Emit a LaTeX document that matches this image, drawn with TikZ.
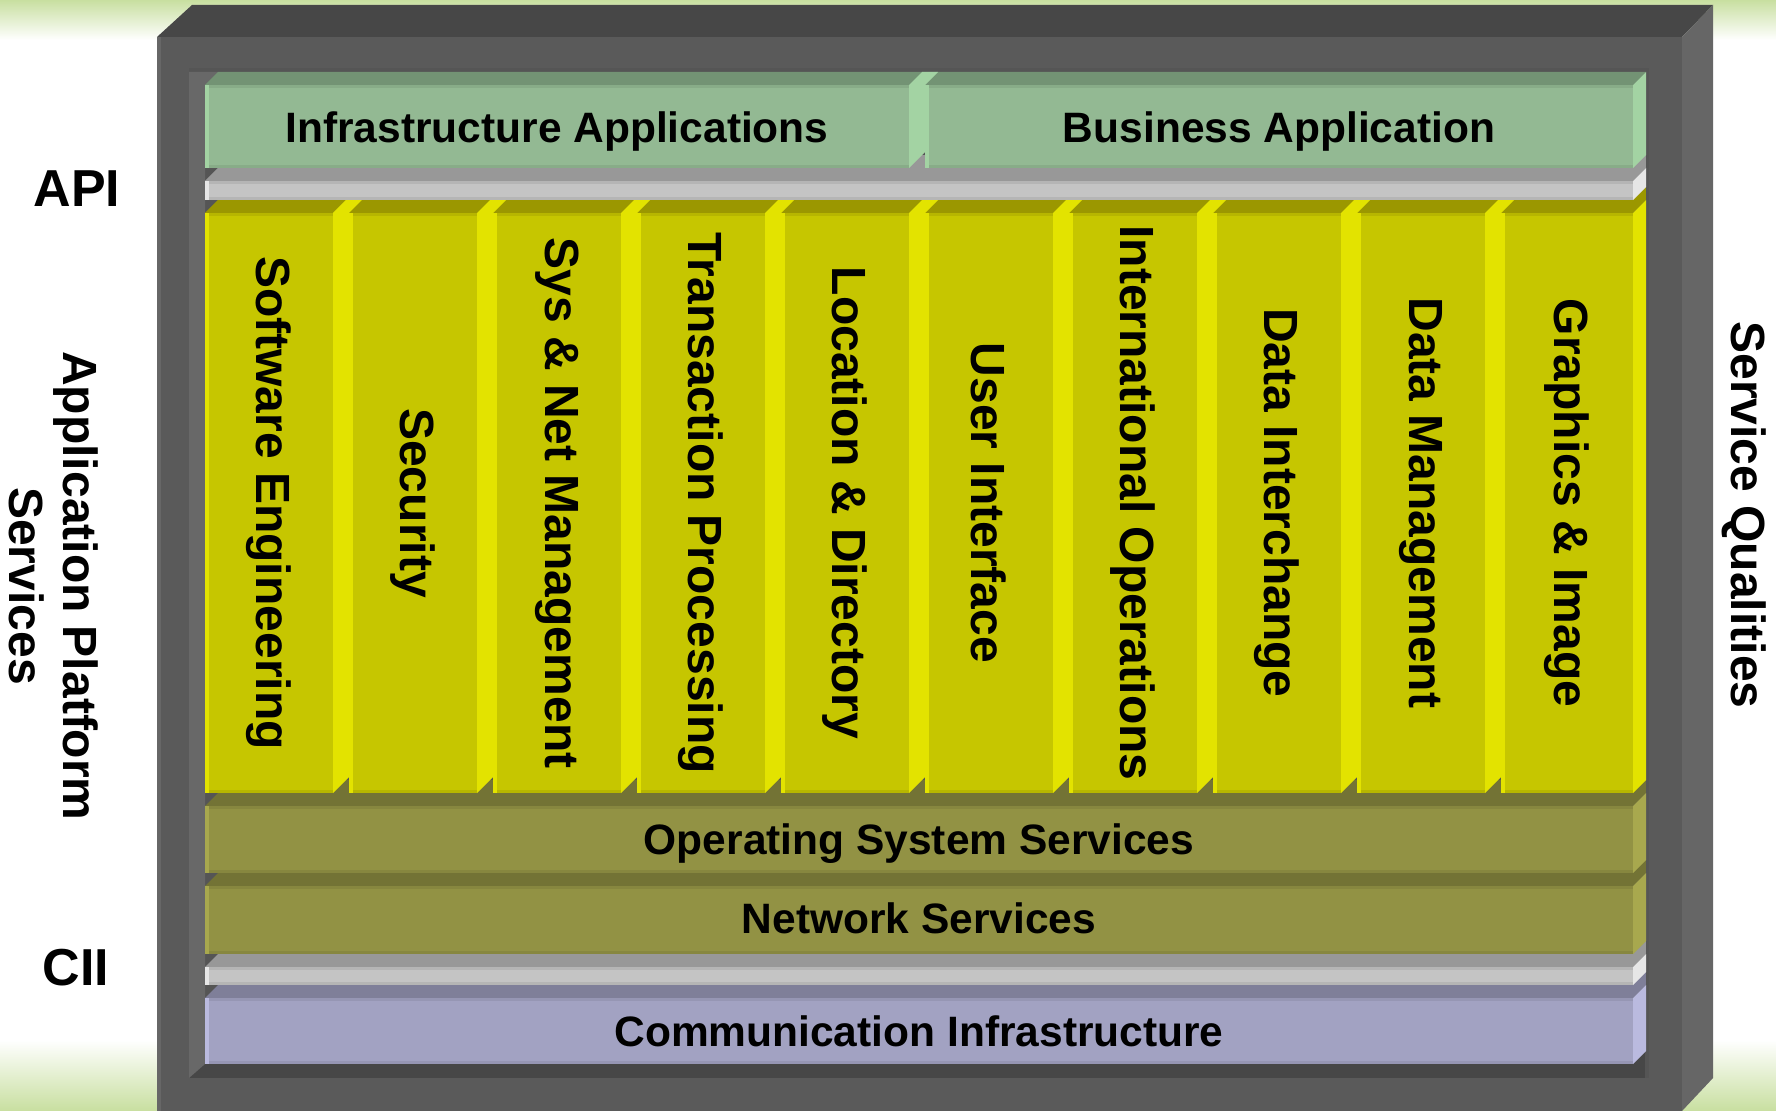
\documentclass[tikz,border=0pt]{standalone}
\usepackage{fontspec}
\setmainfont{Liberation Sans}

\definecolor{bgGreen}{HTML}{C8DFA0}
\definecolor{frameF}{HTML}{5A5A5A}
\definecolor{frameT}{HTML}{474747}
\definecolor{frameS}{HTML}{666666}
\definecolor{recess}{HTML}{555555}
\definecolor{wall}{HTML}{686868}
\definecolor{floor}{HTML}{474747}
\definecolor{grnF}{HTML}{93B993}
\definecolor{grnT}{HTML}{739374}
\definecolor{grnS}{HTML}{A3D3A3}
\definecolor{gryF}{HTML}{C4C4C4}
\definecolor{gryT}{HTML}{989898}
\definecolor{gryS}{HTML}{E6E6E6}
\definecolor{yelF}{HTML}{C6C600}
\definecolor{yelT}{HTML}{9B9700}
\definecolor{yelS}{HTML}{E3E300}
\definecolor{olvF}{HTML}{929244}
\definecolor{olvT}{HTML}{737335}
\definecolor{olvS}{HTML}{A8A84E}
\definecolor{lavF}{HTML}{A2A2C2}
\definecolor{lavT}{HTML}{7F7F99}
\definecolor{lavS}{HTML}{BABADF}

% faces of a slab: front (x1,y1)-(x2,y2), depth 13
\newcommand{\slabback}[4]{\fill[#4T] ({(#1)+13},{(#2)-26}) rectangle ({(#3)+13},{(#2)-13});}
\newcommand{\slabtop}[4]{\fill[#4T] (#1,#2) -- ({(#1)+13},{(#2)-13}) -- ({(#3)+13},{(#2)-13}) -- (#3,#2) -- cycle;}
\newcommand{\slabside}[4]{\fill[#4S] (#1,#2) -- ({(#1)+13},{(#2)-13}) -- ({(#1)+13},{(#3)-13}) -- (#1,#3) -- cycle;}
\newcommand{\slabfront}[5]{%
  \fill[#5F] (#1,#2) rectangle (#3,#4);
  \fill[#5S] (#1,#2) rectangle ({(#1)+4},#4);
  \fill[#5T!35!#5F] ({(#1)+4},#2) rectangle (#3,{(#2)+3});
  \fill[#5T!35!#5F] ({(#1)+4},{(#4)-3}) rectangle (#3,#4);}
\newcommand{\slabgap}[5]{\fill[#5S] (#1,#4) -- (#1,#3) -- ({(#1)+13},{(#3)-13}) -- ({(#2)+13},{(#3)-13}) -- (#2,#3) -- (#2,{(#4)-(#2)+(#1)}) -- cycle;}
\newcommand{\slab}[5]{\slabback{#1}{#2}{#3}{#5}\slabtop{#1}{#2}{#3}{#5}\slabside{#3}{#2}{#4}{#5}\slabfront{#1}{#2}{#3}{#4}{#5}}

\tikzset{
  hlabel/.style={font=\bfseries\fontsize{21.25}{24}\selectfont, inner sep=0pt, text depth=0pt},
  vlabel/.style={font=\bfseries\fontsize{24}{27}\selectfont, rotate=-90, inner sep=0pt},
  marginlabel/.style={font=\bfseries\fontsize{24}{27}\selectfont, rotate=-90, align=center, inner sep=0pt},
  biglabel/.style={font=\bfseries\fontsize{26}{30}\selectfont, inner sep=0pt}
}

\begin{document}
\begin{tikzpicture}[x=0.5pt,y=-0.5pt]
\useasboundingbox (0,0) rectangle (1776,1111);
\fill[white] (0,0) rectangle (1776,1111);
\shade[top color=bgGreen, bottom color=white] (0,0) rectangle (1776,40);
\shade[top color=white, bottom color=bgGreen] (0,1040) rectangle (1776,1111);

% frame
\fill[frameT] (157,37) -- (192,5) -- (1713,5) -- (1682,37) -- cycle;
\fill[frameS] (1682,37) -- (1713,5) -- (1713,1078) -- (1682,1111) -- cycle;
\fill[frameF] (157,37) rectangle (1682,1111);
\fill[frameF!92!white] (157,37) rectangle (161,1111);
\fill[recess] (189,68) rectangle (1649,1078);
\fill[floor] (189,1051) rectangle (1645,1078);
\fill[wall] (189,72) -- (218,72) -- (205,85) -- (205,1064) -- (189,1078) -- cycle;

% layers, bottom first
\slab{205}{998}{1633}{1064}{lav}
\slab{205}{967}{1633}{985}{gry}
\slab{205}{886}{1633}{954}{olv}
\slab{205}{806}{1633}{873}{olv}

\slabback{205}{213}{1633}{yel}
\slabtop{205}{213}{1633}{yel}
\slabside{1633}{213}{793}{yel}
\foreach \lab [count=\i from 0] in {Software Engineering, Security,
    Sys \& Net Management, Transaction Processing, Location \& Directory,
    User Interface, International Operations, Data Interchange,
    Data Management, Graphics \& Image} {
  \pgfmathsetmacro\xl{205+144*\i}
  \pgfmathsetmacro\xr{\i==9 ? 1633 : \xl+128}
  \slabfront{\xl}{213}{\xr}{793}{yel}
  \ifnum\i<9 \slabgap{\xr}{\xl+144}{213}{793}{yel}\fi
  \node[vlabel] (col\i) at ({(\xl+\xr)/2},503) {\lab};
}

\slab{205}{181}{1633}{200}{gry}
\slabtop{205}{85}{1633}{grn}
\slabside{1633}{85}{168}{grn}
\slabfront{205}{85}{909}{168}{grn}
\slabgap{909}{925}{85}{168}{grn}
\slabfront{925}{85}{1633}{168}{grn}

\node[hlabel] (infra) at (557,127) {Infrastructure Applications};
\node[hlabel] (business) at (1279,127) {Business Application};
\node[hlabel] (ossvc) at (919,839) {Operating System Services};
\node[hlabel] (netsvc) at (919,918) {Network Services};
\node[hlabel] (comm) at (919,1031) {Communication Infrastructure};

\node[biglabel] (api) at (77,189) {API};
\node[biglabel] (cii) at (76,968) {CII};
\node[marginlabel] (platform) at (54,586) {Application Platform\\Services};
\node[marginlabel] (qualities) at (1744,515) {Service Qualities};
\end{tikzpicture}
\end{document}
